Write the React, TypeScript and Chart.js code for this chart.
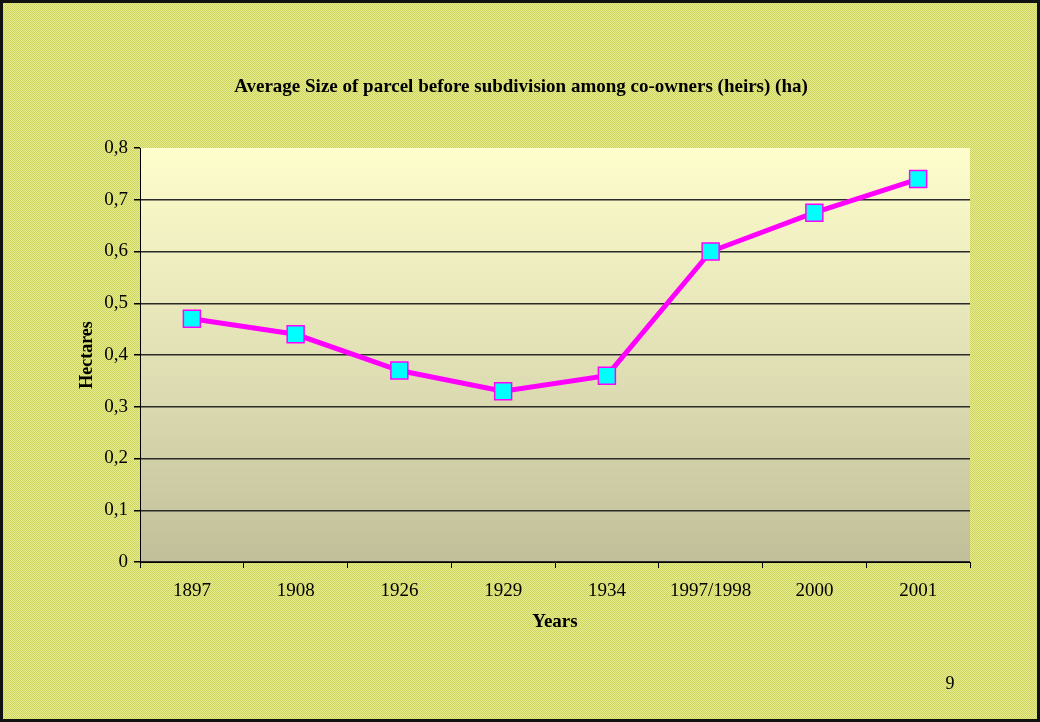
import React, { useEffect, useRef } from 'react';
import { Chart, registerables } from 'chart.js';

Chart.register(...registerables);

const years = ['1897', '1908', '1926', '1929', '1934', '1997/1998', '2000', '2001'];
const avgSize = [0.47, 0.44, 0.37, 0.33, 0.36, 0.6, 0.675, 0.74];
const yTickLabels = ['0', '0,1', '0,2', '0,3', '0,4', '0,5', '0,6', '0,7', '0,8'];
const chartTitle = 'Average Size of parcel before subdivision among co-owners (heirs) (ha)';
const xTitle = 'Years';
const yTitle = 'Hectares';
const pageNumber = '9';

const FONT = '"Liberation Serif", "Times New Roman", serif';

function makePattern(ctx: CanvasRenderingContext2D) {
  const c = document.createElement('canvas');
  c.width = 2;
  c.height = 2;
  const p = c.getContext('2d')!;
  p.fillStyle = '#E6EB8C';
  p.fillRect(0, 0, 2, 2);
  p.fillStyle = '#CDD462';
  p.fillRect(0, 0, 1, 1);
  p.fillRect(1, 1, 1, 1);
  return ctx.createPattern(c, 'repeat');
}

const backgroundPlugin = {
  id: 'slideBackground',
  beforeDraw(chart: any) {
    const { ctx, width, height, chartArea } = chart;
    ctx.save();
    const pat = makePattern(ctx);
    ctx.fillStyle = pat || '#DADF78';
    ctx.fillRect(0, 0, width, height);
    ctx.strokeStyle = '#111';
    ctx.lineWidth = 3;
    ctx.strokeRect(1.5, 1.5, width - 3, height - 3);
    const g = ctx.createLinearGradient(0, chartArea.top, 0, chartArea.bottom);
    g.addColorStop(0, '#FEFDCC');
    g.addColorStop(0.5, '#E2E1B6');
    g.addColorStop(1, '#C0BF99');
    ctx.fillStyle = g;
    ctx.fillRect(chartArea.left, chartArea.top, chartArea.right - chartArea.left, chartArea.bottom - chartArea.top);
    ctx.restore();
  },
  afterDraw(chart: any) {
    const { ctx } = chart;
    ctx.save();
    ctx.fillStyle = '#000';
    ctx.textAlign = 'center';
    ctx.textBaseline = 'middle';
    ctx.font = 'bold 19px ' + FONT;
    ctx.fillText(chartTitle, 521, 87);
    ctx.font = '18px ' + FONT;
    ctx.fillText(pageNumber, 950, 684);
    ctx.restore();
  },
};

export default function App() {
  const ref = useRef<HTMLCanvasElement>(null);
  useEffect(() => {
    if (!ref.current) return;
    const chart = new Chart(ref.current, {
      type: 'line',
      data: {
        labels: years,
        datasets: [
          {
            label: 'Average size (ha)',
            data: avgSize,
            borderColor: '#FF00FF',
            borderWidth: 5,
            pointStyle: 'rect',
            pointRadius: 12,
            pointHoverRadius: 12,
            pointBackgroundColor: '#00FFFF',
            pointBorderColor: '#FF00FF',
            pointBorderWidth: 1.5,
            tension: 0,
            clip: false as any,
          },
        ],
      },
      options: {
        responsive: false,
        animation: false,
        layout: { padding: { left: 60, right: 70, top: 148, bottom: 80 } },
        plugins: {
          legend: { display: false },
          title: { display: false },
          tooltip: { enabled: false },
        },
        scales: {
          x: {
            type: 'category',
            offset: true,
            afterFit: (s: any) => {
              s.height = 80;
            },
            grid: {
              display: true,
              offset: true,
              drawOnChartArea: false,
              tickLength: 6,
              tickColor: '#000',
              color: '#000',
            },
            border: { display: true, color: '#000', width: 1 },
            ticks: {
              color: '#000',
              font: { family: FONT, size: 19 },
              padding: 12,
              maxRotation: 0,
              autoSkip: false,
            },
            title: {
              display: true,
              text: xTitle,
              color: '#000',
              font: { family: FONT, size: 19, weight: 'bold' },
              padding: { top: 0, bottom: 9 },
            },
          },
          y: {
            min: 0,
            max: 0.8,
            afterFit: (s: any) => {
              s.width = 80;
            },
            grid: {
              color: (c: any) => (c.tick && Math.abs(c.tick.value - 0.8) < 1e-6 ? 'rgba(0,0,0,0)' : '#2a2a2a'),
              lineWidth: 1.5,
              tickLength: 6,
              tickColor: '#000',
            },
            border: { display: true, color: '#000', width: 1 },
            ticks: {
              stepSize: 0.1,
              color: '#000',
              font: { family: FONT, size: 19 },
              padding: 6,
              callback: (_v: any, i: number) => yTickLabels[i],
            },
            title: {
              display: true,
              text: yTitle,
              color: '#000',
              font: { family: FONT, size: 18, weight: 'bold' },
              padding: { top: 17, bottom: 0 },
            },
          },
        },
      },
      plugins: [backgroundPlugin],
    });
    return () => chart.destroy();
  }, []);
  return (
    <div style={{ position: 'fixed', left: 0, top: 0, width: 1040, height: 722 }}>
      <canvas ref={ref} width={1040} height={722} style={{ display: 'block' }} />
    </div>
  );
}
